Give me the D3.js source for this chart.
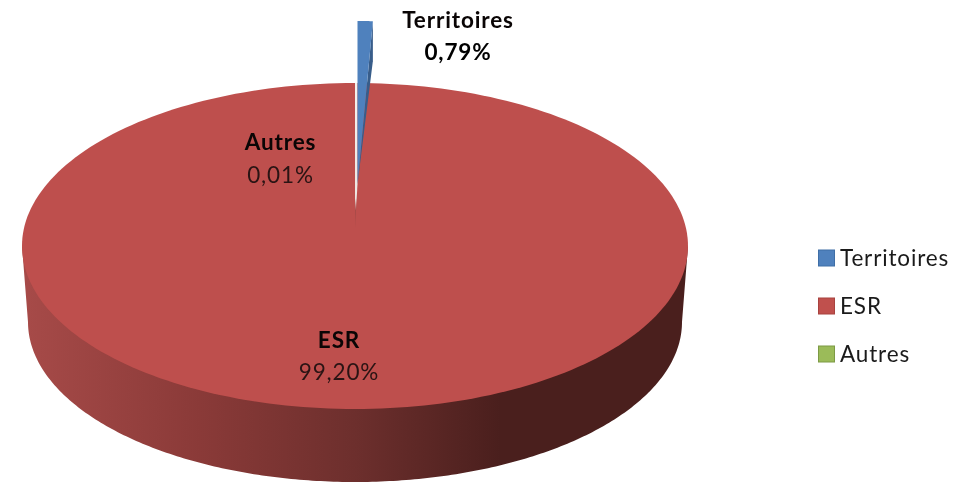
<!DOCTYPE html>
<html><head><meta charset="utf-8">
<script src="https://cdn.jsdelivr.net/npm/d3@7"></script>
<style>html,body{margin:0;padding:0;background:#fff}svg{display:block}text{font-family:Lato,"Open Sans",sans-serif;letter-spacing:.85px}</style>
</head><body><div id="c"></div>
<script>
const categories = ["Territoires","ESR","Autres"];
const values = [0.79,99.20,0.01];
const valueLabels = ["0,79%","99,20%","0,01%"];
const colors = ["#4f81bd","#be4f4d","#9bbb59"];
const borders = ["#3f6ea6","#a8423f","#7d9a45"];
const W=964,H=483;
const svg=d3.select("#c").append("svg").attr("width",W).attr("height",H).style("filter","blur(0.5px)");
const defs=svg.append("defs");
const face={cx:355,cy:246,rx:333,ry:163};
const base={cx:355,cy:322,rx:327,ry:160};
const apex={x:355,y:228};
const explode=-62;           // vertical shift of the exploded slice
const wall=40;               // visible height of the slice's cut wall
const sideStops=[[28,"#a64a48"],[200,"#8a3a38"],[355,"#6d2f2d"],[500,"#4a1f1d"],[688,"#4a1f1d"]];
const g=defs.append("linearGradient").attr("id","side").attr("gradientUnits","userSpaceOnUse").attr("x1",22).attr("x2",688).attr("y1",0).attr("y2",0);
sideStops.forEach(s=>g.append("stop").attr("offset",(s[0]-22)/666).attr("stop-color",s[1]));
const wg=defs.append("linearGradient").attr("id","wedge").attr("gradientUnits","userSpaceOnUse").attr("x1",0).attr("x2",0).attr("y1",80).attr("y2",228);
[[0,"#f6f3ee"],[0.8,"#eee6e2"],[0.88,"#a84a48"],[1,"#a84745"]].forEach(s=>wg.append("stop").attr("offset",s[0]).attr("stop-color",s[1]));

const pie=d3.pie().sort(null).startAngle(0).endAngle(2*Math.PI);
const arcs=pie(values);
const pt=(e,a)=>[e.cx+e.rx*Math.sin(a),e.cy-e.ry*Math.cos(a)];
const line=d3.line();
const sweep=(e,a0,a1,n=240)=>d3.range(n+1).map(i=>pt(e,a0+(a1-a0)*i/n));

// body: silhouette of top and bottom faces
const bodyPts=[pt(face,-Math.PI/2),...sweep(base,-Math.PI/2,-1.5*Math.PI),pt(face,Math.PI/2)];
svg.append("path").attr("d",line(bodyPts)+"Z").attr("fill","url(#side)");

// top face
const terr=arcs[0], esr=arcs[1];
svg.append("path").attr("d",line(sweep(face,terr.startAngle,esr.endAngle))+"Z").attr("fill",colors[1]);

// exploded slice and the gap it leaves
const ex={cx:face.cx+2.5,cy:face.cy+explode,rx:face.rx*0.93,ry:face.ry};
const tip=[ex.cx,ex.cy];
const end=pt(ex,terr.endAngle);
const faceTop=pt(face,terr.startAngle);
svg.append("path").attr("d",line([faceTop,[apex.x,apex.y],tip,[tip[0],faceTop[1]]])+"Z").attr("fill","url(#wedge)");
svg.append("path").attr("d",line([tip,end,[end[0],end[1]+wall]])+"Z").attr("fill","#385d8a");
svg.append("path").attr("d",line([tip,...sweep(ex,terr.startAngle,terr.endAngle,20)])+"Z").attr("fill",colors[0]);

// data labels
const labels=[{i:0,x:458,y1:27.5,y2:60,bold2:true,fill:"#000"},{i:1,x:339,y1:348,y2:380,bold2:false,fill:"#2a1414"},{i:2,x:280.5,y1:149.5,y2:183,bold2:false,fill:"#2a1414"}];
labels.forEach(l=>{
  svg.append("text").attr("x",l.x).attr("y",l.y1).attr("text-anchor","middle").attr("font-size",22.5).attr("font-weight",700).attr("fill","#0a0505").text(categories[l.i]);
  svg.append("text").attr("x",l.x).attr("y",l.y2).attr("text-anchor","middle").attr("font-size",22.5).attr("font-weight",l.bold2?700:400).attr("fill",l.fill).text(valueLabels[l.i]);
});

// legend
const ly=d3.scaleBand().domain(categories).range([234,378]);
const leg=svg.append("g").selectAll("g").data(categories).join("g").attr("transform",d=>`translate(818,${ly(d)+ly.bandwidth()/2})`);
leg.append("rect").attr("x",0.5).attr("y",-8).attr("width",16).attr("height",16).attr("fill",(d,i)=>i===1?"#c0504d":colors[i]).attr("stroke",(d,i)=>borders[i]).attr("stroke-width",1);
leg.append("text").attr("x",22).attr("y",8).attr("font-size",22.5).attr("fill","#1a1a1a").text(d=>d);
</script></body></html>
